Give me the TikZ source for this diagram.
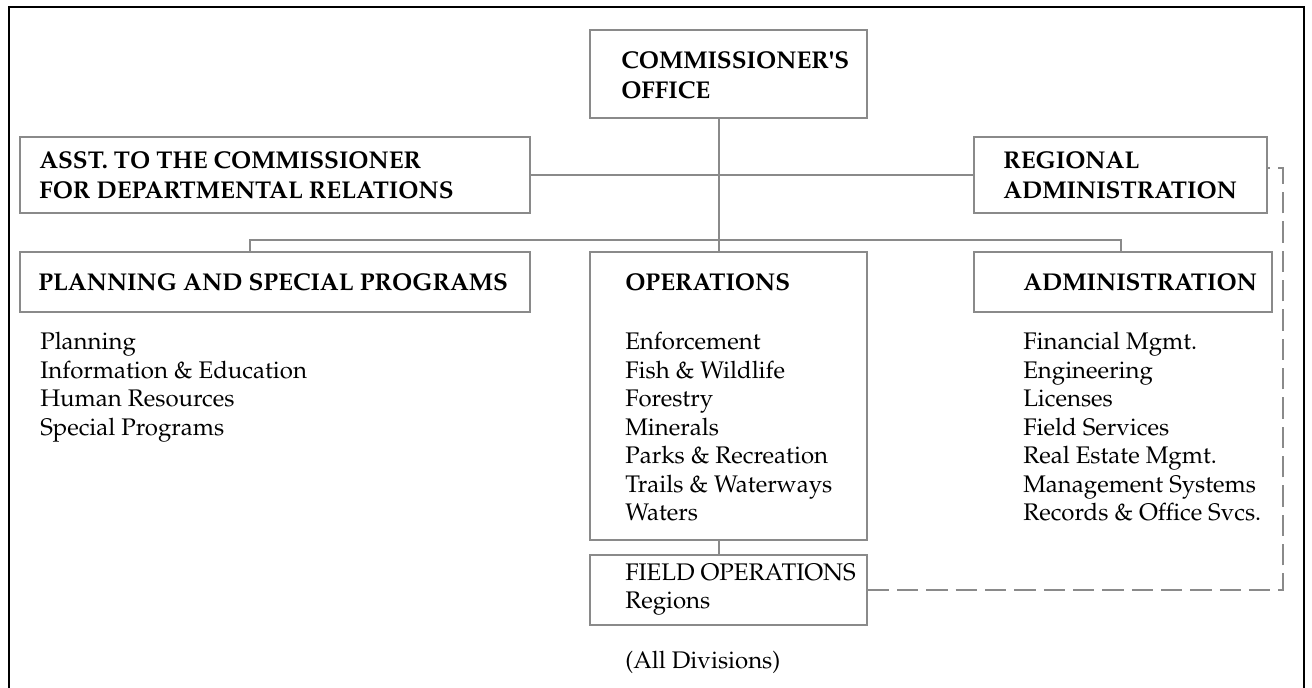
\documentclass[tikz,border=0pt]{standalone}
\usepackage[T1]{fontenc}
\renewcommand{\rmdefault}{ppl}
\definecolor{linegray}{HTML}{8A8A8A}
\begin{document}
\begin{tikzpicture}[x=0.75pt,y=-0.75pt]
\tikzset{
 box/.style={draw=linegray,line width=1.1pt,inner sep=0pt,rectangle},
 conn/.style={draw=linegray,line width=1.1pt},
 dashconn/.style={draw=linegray,line width=1.1pt,dash pattern=on 16pt off 6pt},
 frame/.style={draw=black,line width=2.2pt},
 ttl/.style={font=\fontsize{18.2}{23}\selectfont\bfseries,align=left,inner sep=0pt,anchor=west},
 txt/.style={font=\fontsize{18}{21.4}\selectfont,align=left,inner sep=0pt,anchor=north west},
 txtw/.style={font=\fontsize{18}{21}\selectfont,align=left,inner sep=0pt,anchor=west},
}
\useasboundingbox (0,0) rectangle (1312,687);
% outer frame
\coordinate (fbl) at (9,690);
\coordinate (ftl) at (9,7);
\coordinate (ftr) at (1304,7);
\coordinate (fbr) at (1304,690);
\draw[frame] (fbl) -- (ftl) -- (ftr) -- (fbr);
% boxes
\node[box,minimum width=207.75pt,minimum height=66pt] (com) at (728.5,74) {};
\node[box,minimum width=382.5pt,minimum height=57pt] (asst) at (275,175) {};
\node[box,minimum width=219.75pt,minimum height=57pt] (reg) at (1120.5,175) {};
\node[box,minimum width=382.5pt,minimum height=45pt] (plan) at (275,282) {};
\node[box,minimum width=207.75pt,minimum height=216pt] (ops) at (728.5,396) {};
\node[box,minimum width=223.5pt,minimum height=45pt] (adm) at (1123,282) {};
\node[box,minimum width=207.75pt,minimum height=52.5pt] (field) at (728.5,590) {};
% texts
\node[ttl] (comt) at (621,75) {COMMISSIONER\textquotesingle S\\OFFICE};
\node[ttl] (asstt) at (39,175) {ASST. TO THE COMMISSIONER\\FOR DEPARTMENTAL RELATIONS};
\node[ttl] (regt) at (1003,175) {REGIONAL\\ADMINISTRATION};
\node[ttl] (plant) at (38,282) {PLANNING AND SPECIAL PROGRAMS};
\node[ttl] (opst) at (625,282) {OPERATIONS};
\node[ttl] (admt) at (1023,282) {ADMINISTRATION};
\node[txt] (planl) at (40,332) {Planning\\Information \& Education\\Human Resources\\Special Programs};
\node[txt] (opsl) at (625,332) {Enforcement\\Fish \& Wildlife\\Forestry\\Minerals\\Parks \& Recreation\\Trails \& Waterways\\Waters};
\node[txt] (adml) at (1023,332) {Financial Mgmt.\\Engineering\\Licenses\\Field Services\\Real Estate Mgmt.\\Management Systems\\Records \& Office Svcs.};
\node[txtw] (fieldt) at (625,590) {FIELD OPERATIONS\\Regions};
\node[txtw] (alld) at (625,662) {(All Divisions)};
% connectors
\coordinate (vx) at (719,0);
\coordinate (bl) at (250,240);
\coordinate (br) at (1121,240);
\coordinate (d1) at (1283,590);
\coordinate (d2) at (1283,168);
\draw[conn] (com.south -| vx) -- (ops.north -| vx);
\draw[conn] (asst.east) -- (reg.west);
\draw[conn] (plan.north -| bl) -- (bl) -- (br) -- (adm.north -| br);
\draw[conn] (ops.south -| vx) -- (field.north -| vx);
\draw[dashconn] (field.east) -- (d1) -- (d2) -- (reg.east |- d2);
\end{tikzpicture}
\end{document}
